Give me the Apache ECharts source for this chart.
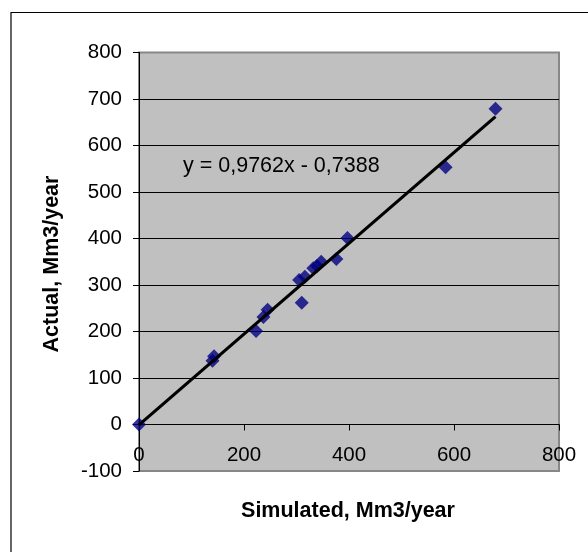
<!DOCTYPE html>
<html>
<head>
<meta charset="utf-8">
<script src="https://cdn.jsdelivr.net/npm/echarts@6/dist/echarts.min.js"></script>
<style>
html,body{margin:0;padding:0;background:#fff;}
#c{width:588px;height:552px;}
</style>
</head>
<body>
<div id="c"></div>
<script>
// Data
var simulated = [0, 140, 143, 223, 237, 245, 305, 316, 310, 332, 339, 347, 376, 397, 584, 679];
var actual    = [0, 137, 147, 201, 231, 247, 311, 318, 262, 336, 341, 350, 356, 401, 553, 679];
var trendX = [0, 679];
var trendY = [-0.74, 662.1];
var equationText = 'y = 0,9762x - 0,7388';
var xTitle = 'Simulated, Mm3/year';
var yTitle = 'Actual, Mm3/year';

var FONT = '"Liberation Sans", Arial, sans-serif';
var chart = echarts.init(document.getElementById('c'), null, {renderer: 'canvas'});

var points = simulated.map(function (x, i) { return [x, actual[i]]; });
var trend = trendX.map(function (x, i) { return [x, trendY[i]]; });

chart.setOption({
  animation: false,
  backgroundColor: '#ffffff',
  grid: {
    left: 139, right: 29, top: 52.5, bottom: 81,
    show: true,
    backgroundColor: '#C0C0C0',
    borderColor: '#878787',
    borderWidth: 2
  },
  xAxis: {
    type: 'value',
    min: 0, max: 800, interval: 200,
    axisLine: {show: true, onZero: true, lineStyle: {color: '#000', width: 1}},
    axisTick: {show: true, length: 6, inside: false, lineStyle: {color: '#000'}},
    axisLabel: {color: '#000', fontSize: 20.5, fontFamily: FONT, margin: -26},
    splitLine: {show: false}
  },
  yAxis: {
    type: 'value',
    min: -100, max: 800, interval: 100,
    axisLine: {show: true, onZero: false, lineStyle: {color: '#000', width: 1}},
    axisTick: {show: true, length: 6, inside: false, lineStyle: {color: '#000'}},
    axisLabel: {color: '#000', fontSize: 20.5, fontFamily: FONT, margin: 17},
    splitLine: {show: true, showMinLine: false, showMaxLine: false, lineStyle: {color: '#000', width: 1}}
  },
  series: [
    {
      type: 'scatter',
      data: points,
      symbol: 'diamond',
      symbolSize: 14,
      itemStyle: {color: '#000080'},
      z: 2
    },
    {
      type: 'line',
      data: trend,
      showSymbol: false,
      symbol: 'none',
      lineStyle: {color: '#000', width: 3.2},
      z: 3
    }
  ],
  graphic: [
    {
      type: 'rect',
      shape: {x: 11, y: 12.5, width: 700, height: 700},
      style: {fill: 'none', stroke: '#000', lineWidth: 1.2},
      silent: true,
      z: 100
    },
    {
      type: 'text',
      left: 183, top: 155,
      style: {text: equationText, fill: '#000', font: '21.5px ' + FONT},
      z: 100
    },
    {
      type: 'text',
      x: 348, y: 511,
      style: {text: xTitle, fill: '#000', font: 'bold 21.5px ' + FONT, align: 'center', verticalAlign: 'middle'},
      z: 100
    },
    {
      type: 'text',
      x: 52, y: 264,
      rotation: Math.PI / 2,
      style: {text: yTitle, fill: '#000', font: 'bold 21.5px ' + FONT, align: 'center', verticalAlign: 'middle'},
      z: 100
    }
  ]
});
</script>
</body>
</html>
